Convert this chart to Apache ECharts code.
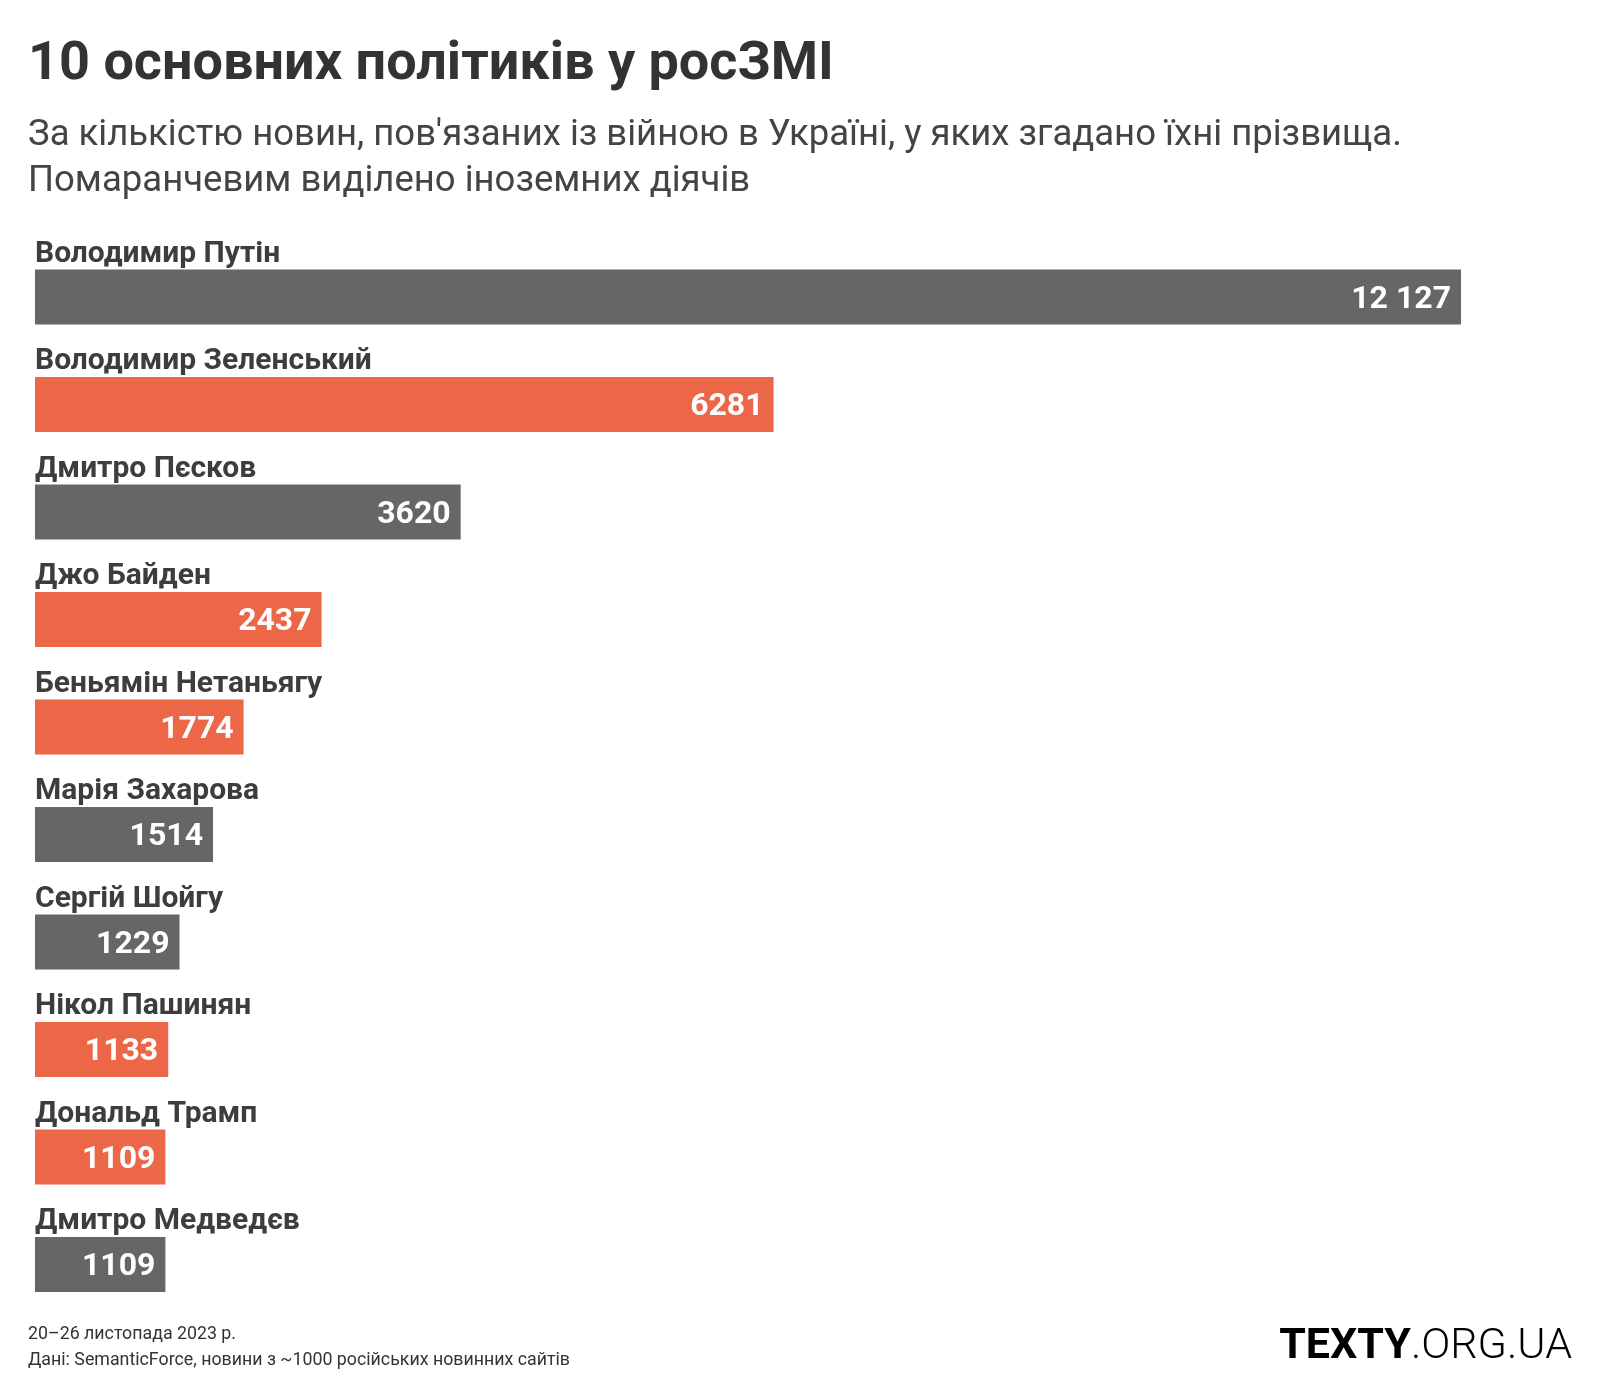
<!DOCTYPE html>
<html>
<head>
<meta charset="utf-8">
<script src="https://cdn.jsdelivr.net/npm/echarts@6/dist/echarts.min.js"></script>
<style>
html,body{margin:0;padding:0;background:#fff;}
#chart{width:1600px;height:1400px;}
</style>
</head>
<body>
<div id="chart"></div>
<script>
const names = ["Володимир Путін","Володимир Зеленський","Дмитро Пєсков","Джо Байден","Беньямін Нетаньягу","Марія Захарова","Сергій Шойгу","Нікол Пашинян","Дональд Трамп","Дмитро Медведєв"];
const values = [12127, 6281, 3620, 2437, 1774, 1514, 1229, 1133, 1109, 1109];
const foreign = [false, true, false, true, true, false, false, true, true, false];

const titleText = "10 основних політиків у росЗМІ";
const subtitleText = "За кількістю новин, пов'язаних із війною в Україні, у яких згадано їхні прізвища.\nПомаранчевим виділено іноземних діячів";
const footerText = "20–26 листопада 2023 р.\nДані: SemanticForce, новини з ~1000 російських новинних сайтів";

const GREY = "#666666", ORANGE = "#EC6748";
const FONT = "Roboto";

function fmt(v){
  if (v >= 10000) return String(v).replace(/\B(?=(\d{3})+(?!\d))/g, " ");
  return String(v);
}

const chart = echarts.init(document.getElementById('chart'), null, {renderer:'canvas'});
chart.setOption({
  backgroundColor: "#ffffff",
  animation: false,
  title: [
    {text: titleText, left: 28, top: 35, padding:0, textStyle:{fontFamily:FONT, fontSize:54, fontWeight:'bold', color:'#333333', lineHeight:60}},
    {text: subtitleText, left: 28, top: 113, padding:0, textStyle:{fontFamily:FONT, fontSize:36.5, fontWeight:'normal', color:'#444444', lineHeight:46}},
    {text: footerText, left: 28, top: 1322, padding:0, textStyle:{fontFamily:FONT, fontSize:17.8, fontWeight:'normal', color:'#333333', lineHeight:26}},
    {text: "{a|TEXTY}{b|.ORG.UA}", right: 28, top: 1326, padding:0, textStyle:{rich:{
      a:{fontFamily:FONT, fontSize:43, fontWeight:'bold', color:'#000000'},
      b:{fontFamily:FONT, fontSize:43, fontWeight:300, color:'#000000'}
    }}}
  ],
  grid: {left: 35, right: 139, top: 243.2, height: 1075, containLabel:false},
  xAxis: {type:'value', min:0, max:'dataMax', show:false},
  yAxis: {type:'category', data:names, inverse:true, show:false},
  series: [
    {
      type:'bar', data: values.map((v,i)=>({value:v, itemStyle:{color: foreign[i]?ORANGE:GREY}})),
      barWidth:55, barGap:'-100%',
      label:{show:true, position:'insideRight', distance:10, offset:[0,3], formatter:(p)=>fmt(p.value),
        fontFamily:FONT, fontSize:32, fontWeight:'bold', color:'#ffffff'},
      silent:true
    },
    {
      type:'bar', data: values, barWidth:55, barGap:'-100%',
      itemStyle:{color:'rgba(0,0,0,0)'},
      label:{show:true, position:[0,0], align:'left', verticalAlign:'bottom', formatter:'{b}',
        fontFamily:FONT, fontSize:30, fontWeight:'bold', color:'#3d3d3d'},
      silent:true
    }
  ]
});
</script>
</body>
</html>
